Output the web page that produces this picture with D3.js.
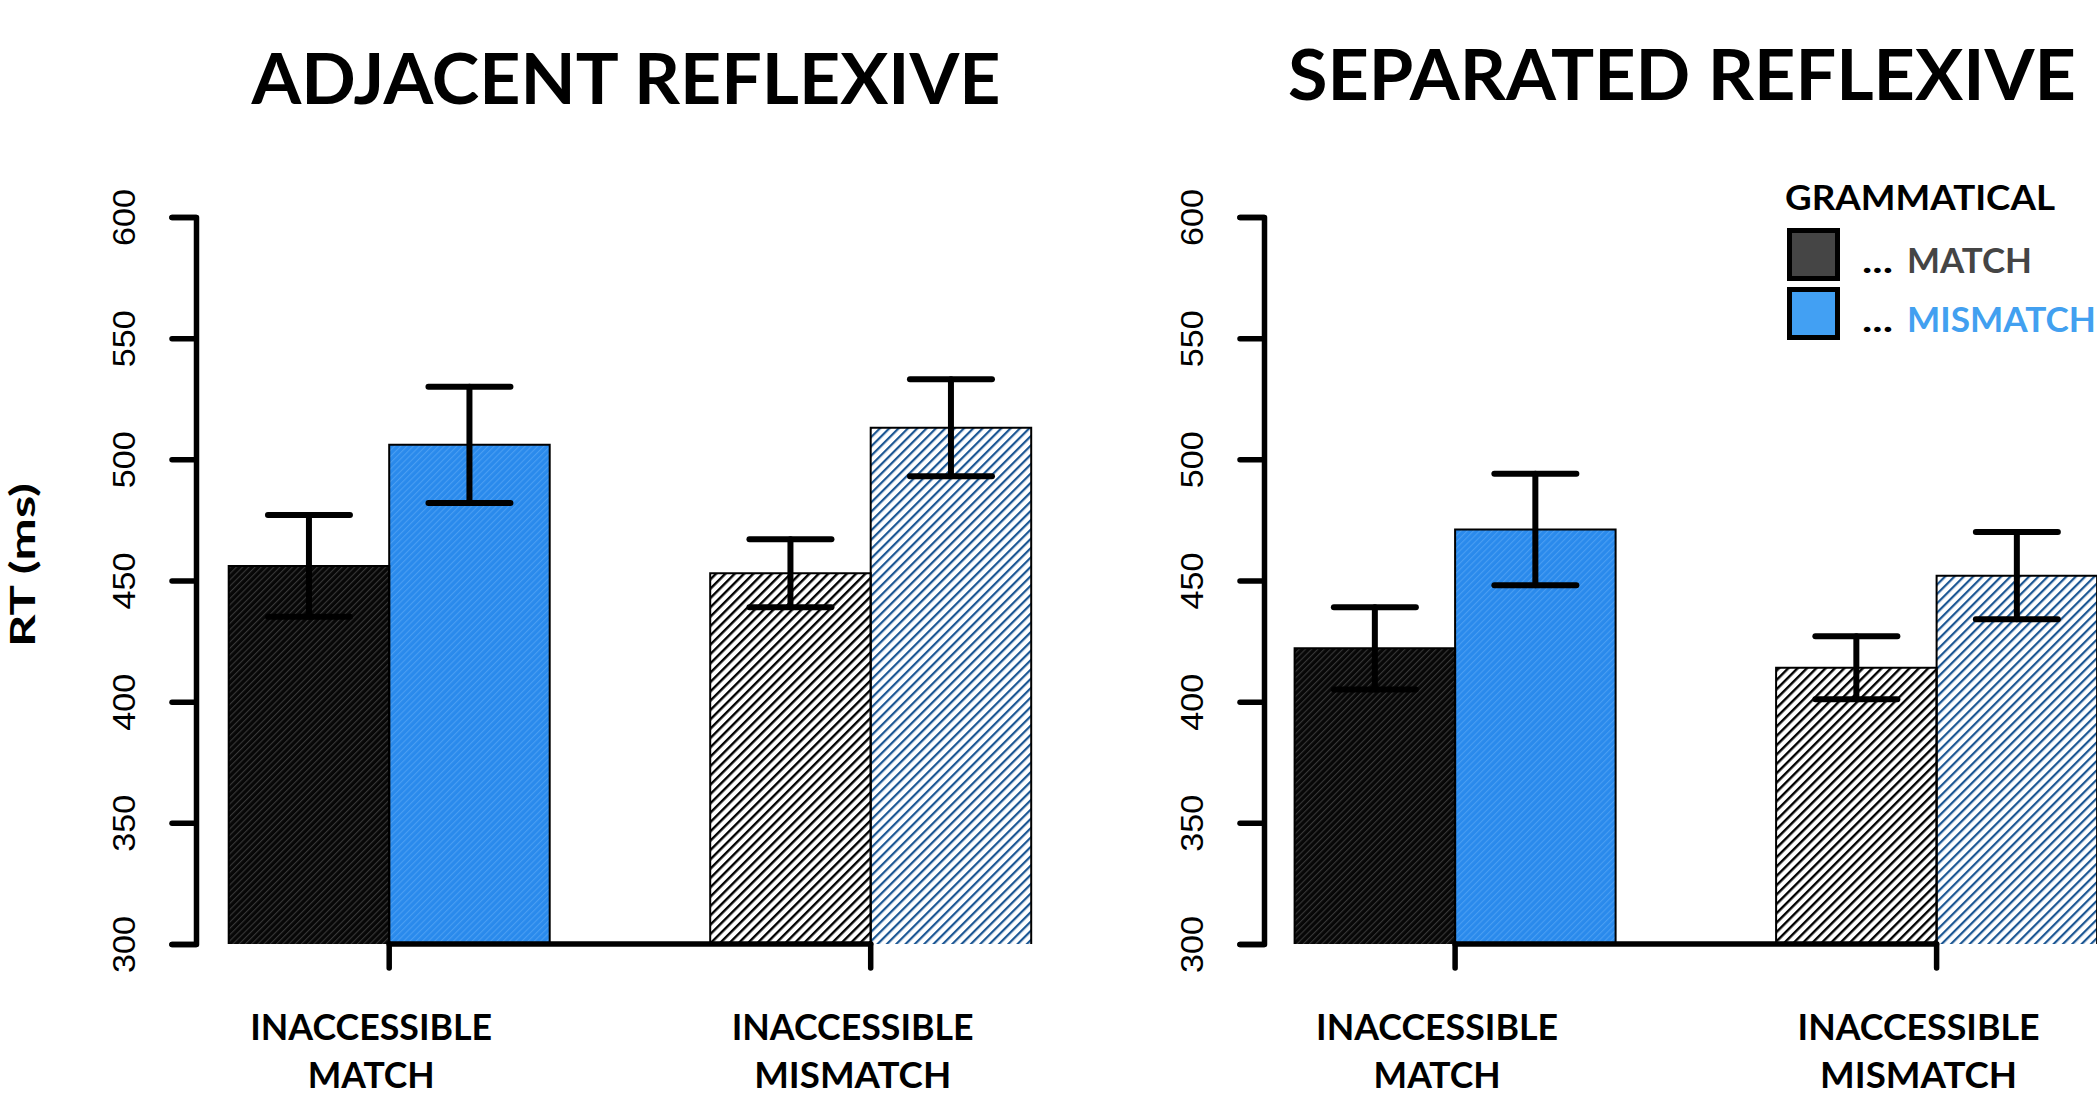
<!DOCTYPE html>
<html>
<head>
<meta charset="utf-8">
<script src="https://cdn.jsdelivr.net/npm/d3@7"></script>
<style>
  html, body { margin: 0; padding: 0; background: #fff; }
  svg { display: block; }
</style>
</head>
<body>
<div id="chart"></div>
<script>
// ---------------- DATA ----------------
const groups = ["INACCESSIBLE MATCH", "INACCESSIBLE MISMATCH"];
const groupLines = [["INACCESSIBLE", "MATCH"], ["INACCESSIBLE", "MISMATCH"]];
const subgroups = ["MATCH", "MISMATCH"];            // grammatical ... match / mismatch
const panelTitles = ["ADJACENT REFLEXIVE", "SEPARATED REFLEXIVE"];
// means [group][subgroup]
const adjacentMeans = [[456, 506], [453, 513]];
const adjacentErr   = [[21, 24],  [14, 20]];
const separatedMeans = [[422, 471], [414, 452]];
const separatedErr   = [[17, 23],  [13, 18]];
const yTicks = [300, 350, 400, 450, 500, 550, 600];
const yLabel = "RT (ms)";
const legendTitle = "GRAMMATICAL";
const legendLabels = ["MATCH", "MISMATCH"];

// ---------------- LAYOUT ----------------
const W = 2097, H = 1098;
const svg = d3.select("#chart").append("svg").attr("width", W).attr("height", H);
const CAL = "Lato, 'Open Sans', sans-serif";

const defs = svg.append("defs");
function hatch(id, bg, line, spacing, width) {
  const p = defs.append("pattern").attr("id", id)
    .attr("patternUnits", "userSpaceOnUse")
    .attr("width", spacing).attr("height", spacing)
    .attr("patternTransform", "rotate(45)");
  p.append("rect").attr("width", spacing).attr("height", spacing).attr("fill", bg);
  p.append("rect").attr("x", 0).attr("y", 0).attr("width", width).attr("height", spacing).attr("fill", line);
}
hatch("solid-MATCH", "#070707", "#383838", 4.4, 1.1);
hatch("solid-MISMATCH", "#2a8aec", "#4a9ef2", 4.4, 1.1);
hatch("hatch-MATCH", "#ffffff", "#000000", 6.6, 2.4);
hatch("hatch-MISMATCH", "#ffffff", "#1b5693", 6.6, 2.2);

const y = d3.scaleLinear().domain([300, 600]).range([944, 217]);

const panels = [
  { title: panelTitles[0], means: adjacentMeans, err: adjacentErr,
    axisX: 196, barsLeft: 228.7, barsRight: 1031.2, titleX: 626, titleY: 104, titleW: 749 },
  { title: panelTitles[1], means: separatedMeans, err: separatedErr,
    axisX: 1264, barsLeft: 1294.6, barsRight: 2097.1, titleX: 1682, titleY: 100, titleW: 788 }
];

const catWidths = { "INACCESSIBLE": 242, "MATCH": 127, "MISMATCH": 197 };

panels.forEach(P => {
  const g = svg.append("g");
  const xg = d3.scaleBand().domain(groups).range([P.barsLeft, P.barsRight])
    .paddingInner(1 / 3).paddingOuter(0);
  const xs = d3.scaleBand().domain(subgroups).range([0, xg.bandwidth()]);

  // title
  g.append("text").attr("x", P.titleX).attr("y", P.titleY)
    .attr("text-anchor", "middle").attr("font-family", CAL).attr("font-weight", 700)
    .attr("font-size", 71).attr("textLength", P.titleW).attr("lengthAdjust", "spacingAndGlyphs")
    .text(P.title);

  // bars
  const data = [];
  groups.forEach((grp, gi) => subgroups.forEach((s, si) => {
    data.push({ grp, gi, s, mean: P.means[gi][si], err: P.err[gi][si] });
  }));
  const bars = g.append("g");
  bars.selectAll("rect").data(data).join("rect")
    .attr("x", d => xg(d.grp) + xs(d.s))
    .attr("y", d => y(d.mean))
    .attr("width", xs.bandwidth())
    .attr("height", d => y(300) - y(d.mean))
    .attr("fill", d => `url(#${d.gi === 0 ? "solid" : "hatch"}-${d.s})`);
  bars.selectAll("path").data(data).join("path")
    .attr("d", d => {
      const x0 = xg(d.grp) + xs(d.s), x1 = x0 + xs.bandwidth();
      return `M${x0},${y(300)}V${y(d.mean)}H${x1}V${y(300)}`;
    })
    .attr("fill", "none").attr("stroke", "#000").attr("stroke-width", 2);

  // y axis
  const ax = g.append("g").attr("transform", `translate(${P.axisX},0)`)
    .call(d3.axisLeft(y).tickValues(yTicks).tickSize(24).tickSizeOuter(24).tickPadding(0));
  ax.select(".domain").attr("stroke-width", 5.5).attr("stroke-linejoin", "round").attr("stroke-linecap", "round");
  ax.selectAll(".tick line").attr("stroke-width", 5.5).attr("stroke-linecap", "round");
  ax.selectAll(".tick text")
    .attr("x", 0).attr("dy", 0)
    .attr("transform", "translate(-61,0) rotate(-90)")
    .attr("text-anchor", "middle")
    .attr("font-family", "'Liberation Sans', Arial, sans-serif")
    .attr("font-size", 32).attr("fill", "#000")
    .attr("textLength", 57).attr("lengthAdjust", "spacingAndGlyphs");

  // x axis (between group centres)
  const centers = groups.map(grp => xg(grp) + xg.bandwidth() / 2);
  const xa = g.append("g").attr("stroke", "#000").attr("stroke-width", 5.5).attr("stroke-linecap", "round");
  xa.append("line").attr("x1", centers[0]).attr("x2", centers[1]).attr("y1", y(300)).attr("y2", y(300));
  xa.selectAll(".xt").data(centers).join("line").attr("class", "xt")
    .attr("x1", d => d).attr("x2", d => d).attr("y1", y(300)).attr("y2", y(300) + 24);

  // category labels
  groups.forEach((grp, gi) => {
    groupLines[gi].forEach((line, li) => {
      g.append("text").attr("x", centers[gi] - 18).attr("y", 1040 + li * 48)
        .attr("text-anchor", "middle").attr("font-family", CAL).attr("font-weight", 700)
        .attr("font-size", 37).attr("textLength", catWidths[line]).attr("lengthAdjust", "spacingAndGlyphs")
        .text(line);
    });
  });

  // error bars
  const eb = g.append("g").attr("stroke", "#000").attr("stroke-width", 6).attr("stroke-linecap", "round");
  data.forEach(d => {
    const cx = xg(d.grp) + xs(d.s) + xs.bandwidth() / 2;
    const hw = 41;
    eb.append("line").attr("x1", cx).attr("x2", cx).attr("y1", y(d.mean - d.err)).attr("y2", y(d.mean + d.err));
    eb.append("line").attr("x1", cx - hw).attr("x2", cx + hw).attr("y1", y(d.mean + d.err)).attr("y2", y(d.mean + d.err));
    eb.append("line").attr("x1", cx - hw).attr("x2", cx + hw).attr("y1", y(d.mean - d.err)).attr("y2", y(d.mean - d.err));
  });
});

// y label
svg.append("text").attr("transform", "translate(35,565) rotate(-90)")
  .attr("text-anchor", "middle").attr("font-family", CAL).attr("font-weight", 700)
  .attr("font-size", 35).attr("textLength", 164).attr("lengthAdjust", "spacingAndGlyphs")
  .text(yLabel);

// legend
const lg = svg.append("g");
lg.append("text").attr("x", 1785).attr("y", 210).attr("font-family", CAL).attr("font-weight", 700)
  .attr("font-size", 35).attr("textLength", 270).attr("lengthAdjust", "spacingAndGlyphs")
  .text(legendTitle);
const legendFill = ["#454545", "#42a0f3"];
const legendText = ["#454545", "#42a0f0"];
const legendW = [125, 189];
legendLabels.forEach((lab, i) => {
  const top = 230.5 + i * 59;
  lg.append("rect").attr("x", 1789.5).attr("y", top).attr("width", 48).attr("height", 48)
    .attr("fill", legendFill[i]).attr("stroke", "#000").attr("stroke-width", 5);
  lg.append("text").attr("x", 1862).attr("y", top + 42).attr("font-family", CAL).attr("font-weight", 700)
    .attr("font-size", 35).attr("textLength", 31).attr("lengthAdjust", "spacingAndGlyphs").text("...");
  lg.append("text").attr("x", 1907).attr("y", top + 42).attr("font-family", CAL).attr("font-weight", 700)
    .attr("font-size", 35).attr("fill", legendText[i])
    .attr("textLength", legendW[i]).attr("lengthAdjust", "spacingAndGlyphs").text(lab);
});
</script>
</body>
</html>
